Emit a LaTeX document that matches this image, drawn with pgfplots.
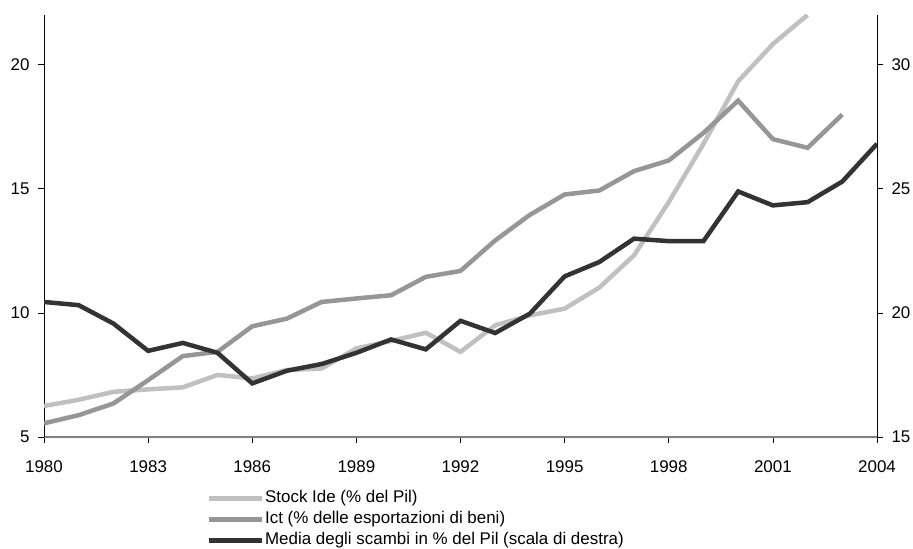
\documentclass[border=0pt]{standalone}
\usepackage{pgfplots}
\pgfplotsset{compat=1.18}
\usepackage{fontspec}
\setmainfont{Liberation Sans}
\definecolor{lightg}{RGB}{192,192,192}
\definecolor{midg}{RGB}{150,150,150}
\definecolor{darkg}{RGB}{51,51,51}
\pgfplotsset{
  common/.style={
    scale only axis, width=833bp, height=422bp,
    xmin=1980, xmax=2004,
    tick align=outside, major tick length=6bp,
    /pgf/number format/assume math mode=true,
    /pgf/number format/1000 sep={},
    tick label style={font=\fontsize{17}{20}\selectfont, black},
    every tick/.style={black, line width=0.6bp},
  }
}
\begin{document}
\begin{tikzpicture}
\begin{axis}[common, name=ax,
  ymin=5, ymax=22, ytick={5,10,15,20},
  xtick={1980,1983,...,2004},
  xticklabel style={yshift=-14bp},
  yticklabel style={xshift=-5bp},
  axis x line*=bottom, axis y line*=left,
  x axis line style={draw=gray, line width=1.6bp},
  y axis line style={draw=black, line width=0.8bp},
  legend style={draw=none, fill=none, inner sep=0pt, anchor=north west,
    at={(axis description cs:0.195,-0.12)},
    font=\fontsize{17}{20}\selectfont,
    nodes={inner xsep=1bp, inner ysep=2.5bp, text height=12.5bp, text depth=3.5bp},
    row sep=0bp},
  legend cell align=left,
  legend image code/.code={\draw[#1] (0bp,0bp) -- (53bp,0bp);},
]
\addplot[lightg, line width=4.5bp] coordinates {
(1980,6.25) (1981,6.5) (1982,6.82) (1983,6.92) (1984,7.0) (1985,7.5)
(1986,7.36) (1987,7.7) (1988,7.76) (1989,8.57) (1990,8.87) (1991,9.2)
(1992,8.43) (1993,9.5) (1994,9.9) (1995,10.17) (1996,11.02) (1997,12.32)
(1998,14.46) (1999,16.81) (2000,19.33) (2001,20.83) (2002,22.0)};
\addlegendentry{Stock Ide (\% del Pil)}
\addplot[midg, line width=4.5bp] coordinates {
(1980,5.55) (1981,5.88) (1982,6.35) (1983,7.29) (1984,8.26) (1985,8.43)
(1986,9.46) (1987,9.77) (1988,10.44) (1989,10.58) (1990,10.71) (1991,11.45)
(1992,11.69) (1993,12.92) (1994,13.95) (1995,14.77) (1996,14.93) (1997,15.71)
(1998,16.14) (1999,17.25) (2000,18.55) (2001,17.0) (2002,16.65) (2003,17.99)};
\addlegendentry{Ict (\% delle esportazioni di beni)}
\addlegendimage{darkg, line width=4.5bp}
\addlegendentry{Media degli scambi in \% del Pil (scala di destra)}
\end{axis}
\begin{axis}[common,
  ymin=15, ymax=32, ytick={15,20,25,30},
  yticklabel style={xshift=5bp},
  axis x line=none, axis y line*=right,
  y axis line style={draw=black, line width=0.8bp},
]
\addplot[darkg, line width=4.5bp] coordinates {
(1980,20.44) (1981,20.31) (1982,19.57) (1983,18.47) (1984,18.79) (1985,18.39)
(1986,17.16) (1987,17.67) (1988,17.94) (1989,18.39) (1990,18.93) (1991,18.53)
(1992,19.68) (1993,19.19) (1994,19.97) (1995,21.47) (1996,22.05) (1997,22.99)
(1998,22.89) (1999,22.89) (2000,24.89) (2001,24.33) (2002,24.46) (2003,25.29)
(2004,26.81)};
\end{axis}
\pgfresetboundingbox
\path[use as bounding box] ([xshift=-44bp,yshift=-112bp]ax.south west) rectangle ([xshift=36bp,yshift=15bp]ax.north east);
\end{tikzpicture}
\end{document}
